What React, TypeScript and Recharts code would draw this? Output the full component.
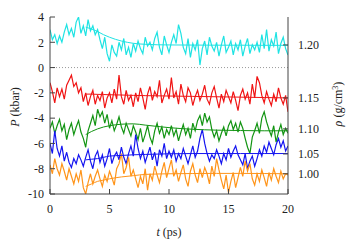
import React from 'react';
import {
  LineChart,
  Line,
  XAxis,
  YAxis,
  ReferenceLine,
} from 'recharts';

// pressure traces (kbar), sampled every 0.2 ps from 0 to 20 ps
const cyanP = [
  3.0, 2.2, 2.6, 1.9, 2.5, 2.0, 2.8, 3.4, 2.6, 3.1, 2.4, 3.6, 4.0, 2.7, 3.3, 2.5, 3.8, 2.9, 3.3, 2.6, 3.0,
  2.2, 1.5, 2.4, 1.1, 0.5, 1.8, 1.2, 0.9, 2.0, 1.4, 2.3, 1.0, 1.6, 0.8, 1.9,
  1.3, 2.1, 1.5, 1.1, 2.4, 1.7, 2.0, 1.4, 2.3, 2.8, 1.6, 1.0, 2.5, 1.8, 1.2,
  2.0, 2.6, 1.9, 3.4, 2.7, 1.6, 1.1, 2.3, 0.8, 1.9, 1.4, 2.2, 0.2, 1.5, 2.1,
  1.0, 2.4, 1.7, 1.3, 2.0, 0.9, 1.8, 2.5, 1.2, 1.6, 2.1, 1.0, 1.9, 1.4, 2.2,
  0.9, 1.7, 2.3, 1.1, 1.8, 1.4, 2.0, 1.2, 2.6, 1.5, 3.0, 1.3, 2.2, 1.7, 2.8, 1.1, 1.9, 2.4, 1.5, 1.0,
];
const redP = [
  -1.2, -1.9, -2.8, -1.6, -2.3, -1.7, -2.5, -1.4, -1.0, -0.6, -1.5, -1.2, -2.0, -1.6, -2.7, -2.0, -3.0, -2.3, -1.8, -2.9, -2.2,
  -2.6, -1.9, -3.2, -2.4, -2.0, -2.8, -1.7, -2.5, -0.6, -2.3, -2.9, -1.8, -2.6, -2.2, -3.1,
  -2.0, -2.7, -1.6, -2.4, -3.3, -2.1, -1.5, -2.6, -1.9, -2.3, -1.0, -2.8, -2.2, -1.7, -2.5,
  -0.8, -2.4, -1.9, -2.9, -1.3, -2.2, -2.7, -1.6, -2.0, -3.0, -2.3, -1.8, -2.6, -2.1, -1.4,
  -2.5, -2.9, -2.0, -1.5, -2.4, -3.2, -2.1, -2.7, -1.8, -2.3, -2.8, -1.9, -2.6, -3.4, -2.2,
  -1.7, -2.5, -2.0, -2.9, -1.3, -2.4, -0.7, -1.2, -2.2, -2.8, -1.9, -2.5, -3.0, -2.1, -2.7, -1.6, -2.4, -2.9, -2.2, -3.5,
];
const greenP = [
  -4.8, -4.3, -5.2, -4.6, -4.1, -5.0, -4.5, -5.7, -4.9, -4.4, -5.3, -4.7, -4.2, -5.1, -5.6, -6.3, -5.0, -4.4, -3.8, -4.6, -3.3,
  -3.9, -3.5, -4.4, -3.7, -4.8, -4.2, -5.0, -4.5, -3.9, -4.7, -5.2, -4.4, -4.9, -5.4, -4.6,
  -5.1, -5.7, -4.8, -5.9, -5.3, -4.6, -5.5, -6.0, -5.0, -4.4, -5.2, -4.7, -5.6, -4.9, -5.3,
  -4.6, -5.4, -4.9, -5.8, -5.1, -4.5, -5.3, -4.8, -5.6, -4.4, -5.0, -4.2, -3.8, -4.6, -3.6,
  -4.3, -3.9, -4.9, -5.5, -5.0, -5.8, -5.2, -4.7, -5.4, -4.6, -4.2, -4.9, -4.4, -5.1, -4.3,
  -4.8, -5.6, -6.3, -6.8, -5.5, -5.0, -4.4, -5.2, -4.0, -3.5, -4.3, -4.9, -5.4, -4.6, -5.9, -5.1, -4.5, -5.3, -4.8, -5.2,
];
const blueP = [
  -6.0, -6.8, -5.0, -6.4, -7.0, -6.2, -7.4, -6.7, -7.5, -7.9, -7.2, -7.6, -6.9, -7.3, -7.8, -7.1, -6.5, -7.4, -8.0, -7.0, -6.6,
  -7.5, -6.9, -7.8, -7.2, -6.4, -7.6, -7.0, -6.7, -7.3, -6.3, -7.1, -7.6, -6.8, -6.2, -7.0,
  -5.3, -6.4, -7.2, -6.6, -7.5, -6.9, -6.3, -7.3, -6.7, -7.8, -6.5, -7.0, -6.0, -7.2, -6.6,
  -7.1, -6.5, -7.4, -6.8, -7.2, -6.4, -7.0, -7.6, -6.9, -6.2, -7.1, -6.6, -5.6, -4.9, -6.0,
  -6.8, -7.4, -6.9, -7.2, -6.5, -7.0, -7.6, -6.8, -7.3, -6.4, -7.1, -6.6, -6.2, -6.9, -7.3,
  -7.7, -6.8, -8.0, -7.4, -7.0, -7.8, -7.2, -6.5, -7.0, -6.2, -6.7, -5.9, -6.4, -6.9, -6.1, -5.6, -6.3, -5.8, -6.6, -6.2,
];
const orangeP = [
  -7.7, -8.4, -7.2, -8.0, -8.5, -7.6, -8.2, -8.9, -8.0, -8.6, -9.2, -8.4, -9.0, -8.1, -9.5, -10.0, -9.1, -8.4, -9.2, -8.6, -8.1,
  -8.8, -9.4, -8.5, -9.0, -8.2, -8.7, -9.3, -8.0, -7.6, -6.8, -8.4, -7.9, -7.1, -8.6, -8.1,
  -8.8, -9.5, -8.6, -9.2, -8.0, -9.7, -8.4, -8.9, -7.8, -8.5, -9.1, -8.2, -7.5, -8.7, -8.0,
  -7.3, -8.6, -8.1, -9.0, -8.3, -7.7, -8.8, -9.4, -8.2, -7.6, -8.5, -9.1, -8.0, -8.7, -7.9,
  -8.4, -9.2, -7.8, -8.6, -7.2, -8.1, -8.9, -9.6, -8.5, -9.9, -9.0, -8.3, -9.5, -8.7, -7.9,
  -8.6, -7.4, -8.2, -7.6, -8.8, -9.3, -8.4, -9.0, -8.1, -8.7, -9.4, -8.3, -8.9, -8.0, -8.6, -9.1, -8.2, -8.8, -8.4, -8.5,
];

// fitted curves
const fitT = [3, 3.5, 4, 4.5, 5, 6, 7, 8, 10, 12, 14, 16, 18, 20];
const cyanFit = [3.2, 3.05, 2.85, 2.6, 2.4, 2.1, 1.92, 1.84, 1.79, 1.78, 1.77, 1.77, 1.76, 1.76];
const redFit = [-2.1, -2.1, -2.12, -2.13, -2.15, -2.17, -2.2, -2.22, -2.25, -2.28, -2.31, -2.34, -2.37, -2.4];
const greenFit = [-5.3, -5.05, -4.85, -4.7, -4.6, -4.48, -4.45, -4.55, -4.75, -4.88, -4.95, -4.98, -5.0, -5.0];
const blueFit = [-7.3, -7.25, -7.2, -7.1, -7.0, -6.95, -6.9, -6.87, -6.82, -6.8, -6.8, -6.8, -6.8, -6.8];
const orangeFit = [-9.4, -9.2, -9.0, -8.9, -8.8, -8.65, -8.55, -8.45, -8.4, -8.38, -8.37, -8.37, -8.38, -8.4];

const xTicks = [0, 5, 10, 15, 20];
const pTicks = [4, 2, 0, -2, -4, -6, -8, -10];
// density labels sit at the pressure level of each trace
const rhoTickPos = [1.79, -2.4, -4.85, -6.83, -8.4];
const rhoLabels = ['1.20', '1.15', '1.10', '1.05', '1.00'];

const series = [
  { key: 'cyan', vals: cyanP, fit: cyanFit, color: '#1ee3e3' },
  { key: 'red', vals: redP, fit: redFit, color: '#f01414' },
  { key: 'green', vals: greenP, fit: greenFit, color: '#129412' },
  { key: 'blue', vals: blueP, fit: blueFit, color: '#1414f0' },
  { key: 'orange', vals: orangeP, fit: orangeFit, color: '#ff9419' },
];

const data = cyanP.map((_, i) => {
  const row: any = { t: Math.round(i * 2) / 10 };
  series.forEach(s => { row[s.key] = s.vals[i]; });
  return row;
});

const fitData = fitT.map((t, i) => {
  const row: any = { t };
  series.forEach(s => { row[s.key] = s.fit[i]; });
  return row;
});

const font = '"Liberation Serif", serif';
const tickStyle = { fill: '#222', fontSize: 12, fontFamily: font };
const axisColor = '#444';

const leftLabel = () => (
  <text x={0} y={0} transform="translate(19,107) rotate(-90)" textAnchor="middle"
    fontFamily={font} fontSize={12} fill="#222">
    <tspan fontStyle="italic">P</tspan> (kbar)
  </text>
);

const rightLabel = () => (
  <text x={0} y={0} transform="translate(342,104) rotate(-90)" textAnchor="middle"
    fontFamily={font} fontSize={12} fill="#222">
    <tspan fontStyle="italic">ρ</tspan> (g/cm<tspan dy={-4} fontSize={8}>3</tspan><tspan dy={4}>)</tspan>
  </text>
);

const bottomLabel = () => (
  <text x={169} y={236} textAnchor="middle" fontFamily={font} fontSize={12} fill="#222">
    <tspan fontStyle="italic">t</tspan> (ps)
  </text>
);

const rhoTick = (props: any) => {
  const { x, y, payload, index } = props;
  const i = typeof index === 'number' ? index : rhoTickPos.indexOf(payload.value);
  return (
    <text x={x} y={y} dy={4} textAnchor="start" fontFamily={font} fontSize={12} fill="#222">
      {rhoLabels[i]}
    </text>
  );
};

export default function App() {
  return (
    <div style={{ position: 'absolute', left: 0, top: 0, background: '#fff' }}>
      <LineChart width={350} height={245} data={data} margin={{ top: 17, right: 0, bottom: 0, left: 0 }}>
        <XAxis xAxisId="b" dataKey="t" type="number" domain={[0, 20]} ticks={xTicks} interval={0}
          height={51} stroke={axisColor} tickSize={-5} tickMargin={15} tick={tickStyle}
          allowDataOverflow label={bottomLabel} />
        <XAxis xAxisId="top" orientation="top" dataKey="t" type="number" domain={[0, 20]} ticks={xTicks}
          height={0} stroke={axisColor} tickSize={-5} tick={false} />
        <YAxis yAxisId="left" type="number" domain={[-10, 4]} ticks={pTicks} interval={0}
          width={50} stroke={axisColor} tickSize={-5} tickMargin={11} tick={tickStyle}
          allowDataOverflow label={leftLabel} />
        <YAxis yAxisId="right" orientation="right" type="number" domain={[-10, 4]} ticks={rhoTickPos}
          interval={0} width={62} stroke={axisColor} tickSize={-5} tickMargin={15} tick={rhoTick}
          allowDataOverflow label={rightLabel} />
        <ReferenceLine xAxisId="b" yAxisId="left" y={0} stroke="#999" strokeDasharray="1 2" />
        {series.map(s => (
          <Line key={s.key} xAxisId="b" yAxisId="left" dataKey={s.key} type="linear" stroke={s.color}
            strokeWidth={1.2} dot={false} isAnimationActive={false} />
        ))}
        {series.map(s => (
          <Line key={s.key + '-fit'} data={fitData} xAxisId="b" yAxisId="left" dataKey={s.key}
            type="monotone" stroke={s.color} strokeWidth={1} dot={false} isAnimationActive={false} />
        ))}
      </LineChart>
    </div>
  );
}
